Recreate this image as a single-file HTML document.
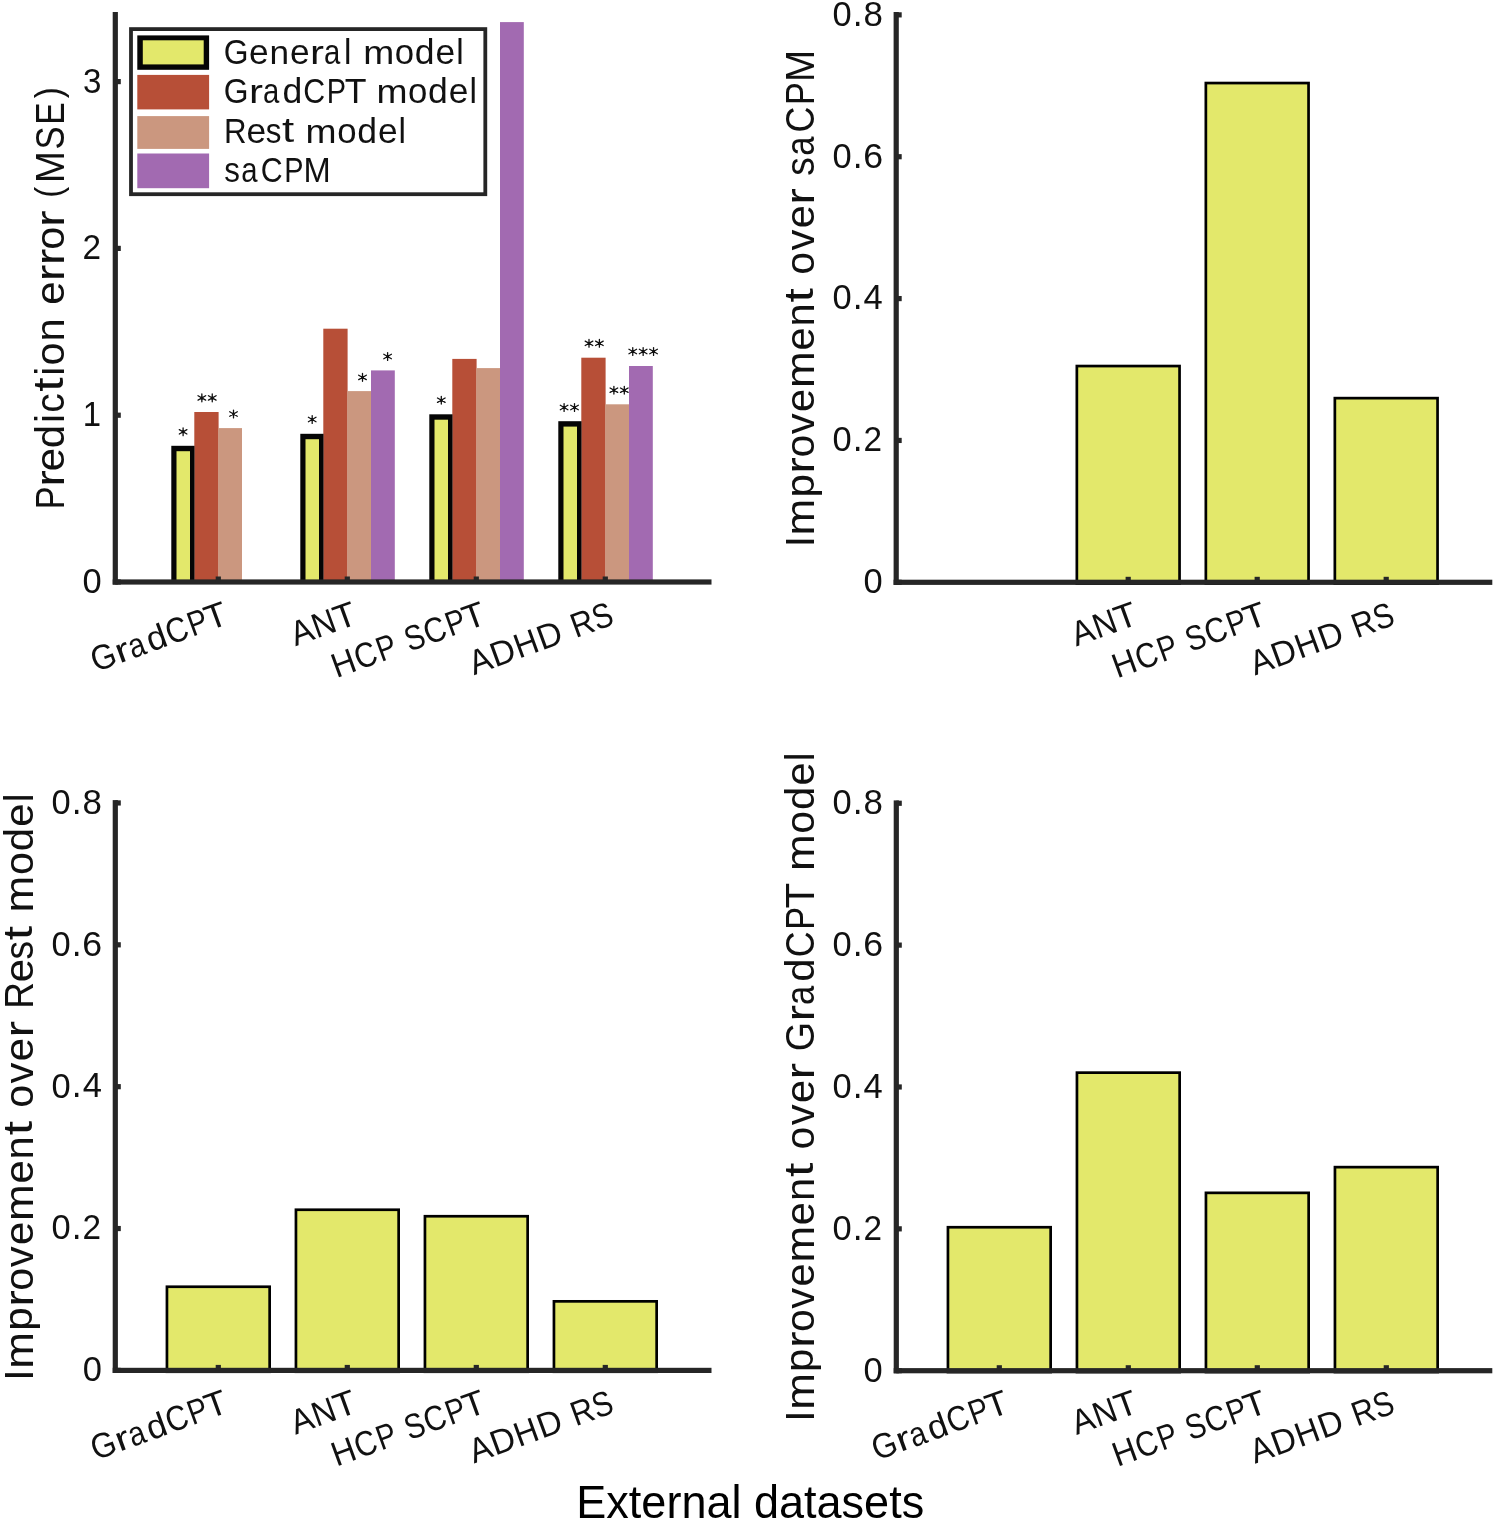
<!DOCTYPE html>
<html><head><meta charset="utf-8"><style>
html,body{margin:0;padding:0;background:#fff;overflow:hidden;}
svg{display:block;}
text{-webkit-font-smoothing:antialiased;}
text{font-family:"Liberation Sans", sans-serif;}
</style></head><body>
<svg style="will-change:transform" width="1494" height="1521" viewBox="0 0 1494 1521">
<rect width="1494" height="1521" fill="#fff"/>
<rect x="194.30" y="412.00" width="24.3" height="170.00" fill="#B74F37"/>
<rect x="218.30" y="428.10" width="23.7" height="153.90" fill="#CB977F"/>
<rect x="171.30" y="445.80" width="23.2" height="136.20" fill="#050505"/>
<rect x="176.50" y="451.20" width="13.5" height="130.80" fill="#E3E86B"/>
<rect x="323.30" y="328.70" width="24.3" height="253.30" fill="#B74F37"/>
<rect x="347.30" y="391.10" width="23.7" height="190.90" fill="#CB977F"/>
<rect x="371.00" y="370.40" width="23.8" height="211.60" fill="#A26AB1"/>
<rect x="300.30" y="433.80" width="23.2" height="148.20" fill="#050505"/>
<rect x="305.50" y="439.20" width="13.5" height="142.80" fill="#E3E86B"/>
<rect x="452.30" y="358.90" width="24.3" height="223.10" fill="#B74F37"/>
<rect x="476.30" y="368.10" width="23.7" height="213.90" fill="#CB977F"/>
<rect x="500.00" y="22.10" width="23.8" height="559.90" fill="#A26AB1"/>
<rect x="429.30" y="414.30" width="23.2" height="167.70" fill="#050505"/>
<rect x="434.50" y="419.70" width="13.5" height="162.30" fill="#E3E86B"/>
<rect x="581.30" y="357.70" width="24.3" height="224.30" fill="#B74F37"/>
<rect x="605.30" y="404.30" width="23.7" height="177.70" fill="#CB977F"/>
<rect x="629.00" y="366.00" width="23.8" height="216.00" fill="#A26AB1"/>
<rect x="558.30" y="421.20" width="23.2" height="160.80" fill="#050505"/>
<rect x="563.50" y="426.60" width="13.5" height="155.40" fill="#E3E86B"/>
<rect x="112.70" y="12.00" width="5.2" height="572.60" fill="#262626"/>
<rect x="112.70" y="579.40" width="598.80" height="5.2" fill="#262626"/>
<rect x="115.30" y="579.40" width="5.50" height="5.2" fill="#262626"/>
<rect x="115.30" y="412.60" width="5.50" height="5.2" fill="#262626"/>
<rect x="115.30" y="245.80" width="5.50" height="5.2" fill="#262626"/>
<rect x="115.30" y="79.00" width="5.50" height="5.2" fill="#262626"/>
<rect x="215.70" y="576.50" width="5.2" height="5.50" fill="#262626"/>
<rect x="344.70" y="576.50" width="5.2" height="5.50" fill="#262626"/>
<rect x="473.70" y="576.50" width="5.2" height="5.50" fill="#262626"/>
<rect x="602.70" y="576.50" width="5.2" height="5.50" fill="#262626"/>
<path d="M183.10,427.90L183.10,435.70M179.29,434.00L186.91,429.60M179.29,429.60L186.91,434.00" stroke="#111" stroke-width="1.3" stroke-linecap="round" fill="none"/><circle cx="183.10" cy="431.80" r="1.5" fill="#111"/>
<path d="M201.85,394.00L201.85,401.80M198.04,400.10L205.66,395.70M198.04,395.70L205.66,400.10" stroke="#111" stroke-width="1.3" stroke-linecap="round" fill="none"/><circle cx="201.85" cy="397.90" r="1.5" fill="#111"/><path d="M212.25,394.00L212.25,401.80M208.44,400.10L216.06,395.70M208.44,395.70L216.06,400.10" stroke="#111" stroke-width="1.3" stroke-linecap="round" fill="none"/><circle cx="212.25" cy="397.90" r="1.5" fill="#111"/>
<path d="M233.50,410.10L233.50,417.90M229.69,416.20L237.31,411.80M229.69,411.80L237.31,416.20" stroke="#111" stroke-width="1.3" stroke-linecap="round" fill="none"/><circle cx="233.50" cy="414.00" r="1.5" fill="#111"/>
<path d="M312.20,415.60L312.20,423.40M308.39,421.70L316.01,417.30M308.39,417.30L316.01,421.70" stroke="#111" stroke-width="1.3" stroke-linecap="round" fill="none"/><circle cx="312.20" cy="419.50" r="1.5" fill="#111"/>
<path d="M362.50,373.50L362.50,381.30M358.69,379.60L366.31,375.20M358.69,375.20L366.31,379.60" stroke="#111" stroke-width="1.3" stroke-linecap="round" fill="none"/><circle cx="362.50" cy="377.40" r="1.5" fill="#111"/>
<path d="M387.60,352.60L387.60,360.40M383.79,358.70L391.41,354.30M383.79,354.30L391.41,358.70" stroke="#111" stroke-width="1.3" stroke-linecap="round" fill="none"/><circle cx="387.60" cy="356.50" r="1.5" fill="#111"/>
<path d="M441.30,396.30L441.30,404.10M437.49,402.40L445.11,398.00M437.49,398.00L445.11,402.40" stroke="#111" stroke-width="1.3" stroke-linecap="round" fill="none"/><circle cx="441.30" cy="400.20" r="1.5" fill="#111"/>
<path d="M564.10,403.60L564.10,411.40M560.29,409.70L567.91,405.30M560.29,405.30L567.91,409.70" stroke="#111" stroke-width="1.3" stroke-linecap="round" fill="none"/><circle cx="564.10" cy="407.50" r="1.5" fill="#111"/><path d="M574.50,403.60L574.50,411.40M570.69,409.70L578.31,405.30M570.69,405.30L578.31,409.70" stroke="#111" stroke-width="1.3" stroke-linecap="round" fill="none"/><circle cx="574.50" cy="407.50" r="1.5" fill="#111"/>
<path d="M589.00,339.40L589.00,347.20M585.19,345.50L592.81,341.10M585.19,341.10L592.81,345.50" stroke="#111" stroke-width="1.3" stroke-linecap="round" fill="none"/><circle cx="589.00" cy="343.30" r="1.5" fill="#111"/><path d="M599.40,339.40L599.40,347.20M595.59,345.50L603.21,341.10M595.59,341.10L603.21,345.50" stroke="#111" stroke-width="1.3" stroke-linecap="round" fill="none"/><circle cx="599.40" cy="343.30" r="1.5" fill="#111"/>
<path d="M613.90,386.30L613.90,394.10M610.09,392.40L617.71,388.00M610.09,388.00L617.71,392.40" stroke="#111" stroke-width="1.3" stroke-linecap="round" fill="none"/><circle cx="613.90" cy="390.20" r="1.5" fill="#111"/><path d="M624.30,386.30L624.30,394.10M620.49,392.40L628.11,388.00M620.49,388.00L628.11,392.40" stroke="#111" stroke-width="1.3" stroke-linecap="round" fill="none"/><circle cx="624.30" cy="390.20" r="1.5" fill="#111"/>
<path d="M632.75,347.60L632.75,355.40M628.94,353.70L636.56,349.30M628.94,349.30L636.56,353.70" stroke="#111" stroke-width="1.3" stroke-linecap="round" fill="none"/><circle cx="632.75" cy="351.50" r="1.5" fill="#111"/><path d="M643.15,347.60L643.15,355.40M639.34,353.70L646.96,349.30M639.34,349.30L646.96,353.70" stroke="#111" stroke-width="1.3" stroke-linecap="round" fill="none"/><circle cx="643.15" cy="351.50" r="1.5" fill="#111"/><path d="M653.55,347.60L653.55,355.40M649.74,353.70L657.36,349.30M649.74,349.30L657.36,353.70" stroke="#111" stroke-width="1.3" stroke-linecap="round" fill="none"/><circle cx="653.55" cy="351.50" r="1.5" fill="#111"/>
<rect x="131" y="29.1" width="354.3" height="165.1" fill="#fff" stroke="#262626" stroke-width="3.8"/>
<rect x="137.3" y="35.4" width="71.8" height="34.4" fill="#050505"/>
<rect x="142.8" y="40.3" width="60.9" height="24.1" fill="#E3E86B"/>
<rect x="137.3" y="74.9" width="71.8" height="34.5" fill="#B74F37"/>
<rect x="137.3" y="116.1" width="71.8" height="32.8" fill="#CB977F"/>
<rect x="137.3" y="153.5" width="71.8" height="34.7" fill="#A26AB1"/>
<g fill="#111111"><text transform="translate(223.64,64.01) scale(0.974,1.068)" font-size="32.70">G</text><text transform="translate(249.05,64.02) scale(1.081,1.047)" font-size="32.70">e</text><text transform="translate(269.48,63.90) scale(1.077,1.041)" font-size="32.70">n</text><text transform="translate(289.90,64.02) scale(1.081,1.047)" font-size="32.70">e</text><text transform="translate(309.88,63.90) scale(1.283,1.041)" font-size="32.70">r</text><text transform="translate(323.88,64.02) scale(0.897,1.047)" font-size="32.70">a</text><text transform="translate(344.02,63.90) scale(1.022,1.048)" font-size="32.70">l</text><text transform="translate(363.15,63.90) scale(1.140,1.041)" font-size="32.70">m</text><text transform="translate(394.86,64.02) scale(1.063,1.047)" font-size="32.70">o</text><text transform="translate(414.83,64.01) scale(1.087,1.053)" font-size="32.70">d</text><text transform="translate(435.59,64.02) scale(1.081,1.047)" font-size="32.70">e</text><text transform="translate(456.23,63.90) scale(1.022,1.048)" font-size="32.70">l</text></g>
<g fill="#111111"><text transform="translate(223.64,103.21) scale(0.974,1.068)" font-size="32.70">G</text><text transform="translate(248.91,103.10) scale(1.283,1.041)" font-size="32.70">r</text><text transform="translate(262.91,103.22) scale(0.897,1.047)" font-size="32.70">a</text><text transform="translate(282.53,103.21) scale(1.087,1.053)" font-size="32.70">d</text><text transform="translate(303.29,103.21) scale(0.928,1.068)" font-size="32.70">C</text><text transform="translate(326.65,103.10) scale(0.884,1.060)" font-size="32.70">P</text><text transform="translate(344.65,103.10) scale(1.090,1.060)" font-size="32.70">T</text><text transform="translate(376.38,103.10) scale(1.140,1.041)" font-size="32.70">m</text><text transform="translate(408.09,103.22) scale(1.063,1.047)" font-size="32.70">o</text><text transform="translate(428.07,103.21) scale(1.087,1.053)" font-size="32.70">d</text><text transform="translate(448.83,103.22) scale(1.081,1.047)" font-size="32.70">e</text><text transform="translate(469.47,103.10) scale(1.022,1.048)" font-size="32.70">l</text></g>
<g fill="#111111"><text transform="translate(224.04,142.60) scale(0.956,1.060)" font-size="32.70">R</text><text transform="translate(246.43,142.72) scale(1.081,1.047)" font-size="32.70">e</text><text transform="translate(265.69,142.71) scale(0.959,1.049)" font-size="32.70">s</text><text transform="translate(282.00,142.32) scale(1.340,1.073)" font-size="32.70">t</text><text transform="translate(305.51,142.60) scale(1.140,1.041)" font-size="32.70">m</text><text transform="translate(337.21,142.72) scale(1.063,1.047)" font-size="32.70">o</text><text transform="translate(357.19,142.71) scale(1.087,1.053)" font-size="32.70">d</text><text transform="translate(377.95,142.72) scale(1.081,1.047)" font-size="32.70">e</text><text transform="translate(398.59,142.60) scale(1.022,1.048)" font-size="32.70">l</text></g>
<g fill="#111111"><text transform="translate(224.32,181.91) scale(0.959,1.049)" font-size="32.70">s</text><text transform="translate(241.17,181.92) scale(0.897,1.047)" font-size="32.70">a</text><text transform="translate(260.79,181.91) scale(0.928,1.068)" font-size="32.70">C</text><text transform="translate(284.14,181.80) scale(0.884,1.060)" font-size="32.70">P</text><text transform="translate(303.55,181.80) scale(0.999,1.060)" font-size="32.70">M</text></g>
<g fill="#111111"><text transform="translate(82.48,593.01) scale(1.054,1.068)" font-size="32.70">0</text></g>
<g fill="#111111"><text transform="translate(82.76,426.10) scale(1.007,1.060)" font-size="32.70">1</text></g>
<g fill="#111111"><text transform="translate(82.42,259.30) scale(1.018,1.063)" font-size="32.70">2</text></g>
<g fill="#111111"><text transform="translate(82.92,92.61) scale(1.013,1.068)" font-size="32.70">3</text></g>
<g transform="translate(63.80,506.50) rotate(-90)"><g fill="#111111"><text transform="translate(-2.81,0.00) scale(0.884,1.060)" font-size="38.80">P</text><text transform="translate(19.80,0.00) scale(1.283,1.041)" font-size="38.80">r</text><text transform="translate(35.23,0.14) scale(1.081,1.047)" font-size="38.80">e</text><text transform="translate(58.24,0.13) scale(1.087,1.053)" font-size="38.80">d</text><text transform="translate(83.53,0.00) scale(1.022,1.048)" font-size="38.80">i</text><text transform="translate(93.78,0.14) scale(1.002,1.047)" font-size="38.80">c</text><text transform="translate(114.84,-0.33) scale(1.340,1.073)" font-size="38.80">t</text><text transform="translate(130.86,0.00) scale(1.022,1.048)" font-size="38.80">i</text><text transform="translate(141.01,0.14) scale(1.063,1.047)" font-size="38.80">o</text><text transform="translate(165.07,0.00) scale(1.077,1.041)" font-size="38.80">n</text><text transform="translate(201.64,0.14) scale(1.081,1.047)" font-size="38.80">e</text><text transform="translate(225.34,0.00) scale(1.283,1.041)" font-size="38.80">r</text><text transform="translate(241.29,0.00) scale(1.283,1.041)" font-size="38.80">r</text><text transform="translate(256.75,0.14) scale(1.063,1.047)" font-size="38.80">o</text><text transform="translate(279.44,0.00) scale(1.283,1.041)" font-size="38.80">r</text><text transform="translate(308.78,-2.56) scale(0.846,0.956)" font-size="38.80">(</text><text transform="translate(323.28,0.00) scale(0.999,1.060)" font-size="38.80">M</text><text transform="translate(357.09,0.13) scale(0.893,1.068)" font-size="38.80">S</text><text transform="translate(381.80,0.00) scale(0.866,1.060)" font-size="38.80">E</text><text transform="translate(408.21,-2.56) scale(0.846,0.956)" font-size="38.80">)</text></g></g>
<g transform="translate(229.00,623.50) rotate(-20)"><g fill="#111111"><text transform="translate(-141.87,0.11) scale(0.974,1.068)" font-size="32.70">G</text><text transform="translate(-116.59,0.00) scale(1.283,1.041)" font-size="32.70">r</text><text transform="translate(-102.59,0.12) scale(0.897,1.047)" font-size="32.70">a</text><text transform="translate(-82.98,0.11) scale(1.087,1.053)" font-size="32.70">d</text><text transform="translate(-62.21,0.11) scale(0.928,1.068)" font-size="32.70">C</text><text transform="translate(-38.86,0.00) scale(0.884,1.060)" font-size="32.70">P</text><text transform="translate(-20.86,0.00) scale(1.090,1.060)" font-size="32.70">T</text></g></g>
<g transform="translate(358.00,623.50) rotate(-20)"><g fill="#111111"><text transform="translate(-66.64,0.00) scale(1.009,1.060)" font-size="32.70">A</text><text transform="translate(-43.88,0.00) scale(0.987,1.060)" font-size="32.70">N</text><text transform="translate(-20.86,0.00) scale(1.090,1.060)" font-size="32.70">T</text></g></g>
<g transform="translate(487.00,623.50) rotate(-20)"><g fill="#111111"><text transform="translate(-160.28,0.00) scale(0.995,1.060)" font-size="32.70">H</text><text transform="translate(-135.92,0.11) scale(0.928,1.068)" font-size="32.70">C</text><text transform="translate(-112.56,0.00) scale(0.884,1.060)" font-size="32.70">P</text><text transform="translate(-82.47,0.11) scale(0.893,1.068)" font-size="32.70">S</text><text transform="translate(-62.21,0.11) scale(0.928,1.068)" font-size="32.70">C</text><text transform="translate(-38.86,0.00) scale(0.884,1.060)" font-size="32.70">P</text><text transform="translate(-20.86,0.00) scale(1.090,1.060)" font-size="32.70">T</text></g></g>
<g transform="translate(616.00,623.50) rotate(-20)"><g fill="#111111"><text transform="translate(-151.03,0.00) scale(1.009,1.060)" font-size="32.70">A</text><text transform="translate(-128.39,0.00) scale(1.034,1.060)" font-size="32.70">D</text><text transform="translate(-103.10,0.00) scale(0.995,1.060)" font-size="32.70">H</text><text transform="translate(-78.62,0.00) scale(1.034,1.060)" font-size="32.70">D</text><text transform="translate(-42.84,0.00) scale(0.956,1.060)" font-size="32.70">R</text><text transform="translate(-19.94,0.11) scale(0.893,1.068)" font-size="32.70">S</text></g></g>
<rect x="1076.85" y="366.05" width="102.70" height="217.60" fill="#E3E86B" stroke="#000" stroke-width="2.7"/>
<rect x="1205.85" y="83.05" width="102.70" height="500.60" fill="#E3E86B" stroke="#000" stroke-width="2.7"/>
<rect x="1334.85" y="398.15" width="102.70" height="185.50" fill="#E3E86B" stroke="#000" stroke-width="2.7"/>
<rect x="893.60" y="12.00" width="5.2" height="572.90" fill="#262626"/>
<rect x="893.60" y="579.70" width="598.70" height="5.2" fill="#262626"/>
<rect x="896.20" y="579.70" width="5.50" height="5.2" fill="#262626"/>
<rect x="896.20" y="437.84" width="5.50" height="5.2" fill="#262626"/>
<rect x="896.20" y="295.98" width="5.50" height="5.2" fill="#262626"/>
<rect x="896.20" y="154.12" width="5.50" height="5.2" fill="#262626"/>
<rect x="896.20" y="12.26" width="5.50" height="5.2" fill="#262626"/>
<rect x="1125.60" y="576.80" width="5.2" height="5.50" fill="#262626"/>
<rect x="1254.60" y="576.80" width="5.2" height="5.50" fill="#262626"/>
<rect x="1383.60" y="576.80" width="5.2" height="5.50" fill="#262626"/>
<g fill="#111111"><text transform="translate(863.58,593.21) scale(1.054,1.068)" font-size="32.70">0</text></g>
<g fill="#111111"><text transform="translate(832.38,451.35) scale(1.054,1.068)" font-size="32.70">0</text><text transform="translate(852.64,451.24) scale(1.083,1.159)" font-size="32.70">.</text><text transform="translate(863.52,451.24) scale(1.018,1.063)" font-size="32.70">2</text></g>
<g fill="#111111"><text transform="translate(832.38,309.49) scale(1.054,1.068)" font-size="32.70">0</text><text transform="translate(852.64,309.38) scale(1.083,1.159)" font-size="32.70">.</text><text transform="translate(863.61,309.38) scale(1.055,1.060)" font-size="32.70">4</text></g>
<g fill="#111111"><text transform="translate(832.38,167.63) scale(1.054,1.068)" font-size="32.70">0</text><text transform="translate(852.64,167.52) scale(1.083,1.159)" font-size="32.70">.</text><text transform="translate(863.27,167.63) scale(1.091,1.068)" font-size="32.70">6</text></g>
<g fill="#111111"><text transform="translate(832.38,25.77) scale(1.054,1.068)" font-size="32.70">0</text><text transform="translate(852.64,25.66) scale(1.083,1.159)" font-size="32.70">.</text><text transform="translate(863.49,25.77) scale(1.066,1.068)" font-size="32.70">8</text></g>
<g transform="translate(813.80,543.60) rotate(-90)"><g fill="#111111"><text transform="translate(-3.74,0.00) scale(1.053,1.060)" font-size="38.63">I</text><text transform="translate(8.18,0.00) scale(1.140,1.041)" font-size="38.63">m</text><text transform="translate(46.03,-0.24) scale(1.089,1.029)" font-size="38.63">p</text><text transform="translate(69.97,0.00) scale(1.283,1.041)" font-size="38.63">r</text><text transform="translate(86.05,0.14) scale(1.063,1.047)" font-size="38.63">o</text><text transform="translate(109.43,0.00) scale(1.079,1.036)" font-size="38.63">v</text><text transform="translate(131.67,0.14) scale(1.081,1.047)" font-size="38.63">e</text><text transform="translate(155.64,0.00) scale(1.140,1.041)" font-size="38.63">m</text><text transform="translate(193.08,0.14) scale(1.081,1.047)" font-size="38.63">e</text><text transform="translate(217.21,0.00) scale(1.077,1.041)" font-size="38.63">n</text><text transform="translate(241.19,-0.33) scale(1.340,1.073)" font-size="38.63">t</text><text transform="translate(268.79,0.14) scale(1.063,1.047)" font-size="38.63">o</text><text transform="translate(293.02,0.00) scale(1.079,1.036)" font-size="38.63">v</text><text transform="translate(315.26,0.14) scale(1.081,1.047)" font-size="38.63">e</text><text transform="translate(338.87,0.00) scale(1.283,1.041)" font-size="38.63">r</text><text transform="translate(367.91,0.14) scale(0.959,1.049)" font-size="38.63">s</text><text transform="translate(387.82,0.14) scale(0.897,1.047)" font-size="38.63">a</text><text transform="translate(411.00,0.13) scale(0.928,1.068)" font-size="38.63">C</text><text transform="translate(438.59,0.00) scale(0.884,1.060)" font-size="38.63">P</text><text transform="translate(461.53,0.00) scale(0.999,1.060)" font-size="38.63">M</text></g></g>
<g transform="translate(1138.90,623.80) rotate(-20)"><g fill="#111111"><text transform="translate(-66.64,0.00) scale(1.009,1.060)" font-size="32.70">A</text><text transform="translate(-43.88,0.00) scale(0.987,1.060)" font-size="32.70">N</text><text transform="translate(-20.86,0.00) scale(1.090,1.060)" font-size="32.70">T</text></g></g>
<g transform="translate(1267.90,623.80) rotate(-20)"><g fill="#111111"><text transform="translate(-160.28,0.00) scale(0.995,1.060)" font-size="32.70">H</text><text transform="translate(-135.92,0.11) scale(0.928,1.068)" font-size="32.70">C</text><text transform="translate(-112.56,0.00) scale(0.884,1.060)" font-size="32.70">P</text><text transform="translate(-82.47,0.11) scale(0.893,1.068)" font-size="32.70">S</text><text transform="translate(-62.21,0.11) scale(0.928,1.068)" font-size="32.70">C</text><text transform="translate(-38.86,0.00) scale(0.884,1.060)" font-size="32.70">P</text><text transform="translate(-20.86,0.00) scale(1.090,1.060)" font-size="32.70">T</text></g></g>
<g transform="translate(1396.90,623.80) rotate(-20)"><g fill="#111111"><text transform="translate(-151.03,0.00) scale(1.009,1.060)" font-size="32.70">A</text><text transform="translate(-128.39,0.00) scale(1.034,1.060)" font-size="32.70">D</text><text transform="translate(-103.10,0.00) scale(0.995,1.060)" font-size="32.70">H</text><text transform="translate(-78.62,0.00) scale(1.034,1.060)" font-size="32.70">D</text><text transform="translate(-42.84,0.00) scale(0.956,1.060)" font-size="32.70">R</text><text transform="translate(-19.94,0.11) scale(0.893,1.068)" font-size="32.70">S</text></g></g>
<rect x="166.95" y="1286.75" width="102.70" height="85.00" fill="#E3E86B" stroke="#000" stroke-width="2.7"/>
<rect x="295.95" y="1209.75" width="102.70" height="162.00" fill="#E3E86B" stroke="#000" stroke-width="2.7"/>
<rect x="424.95" y="1216.25" width="102.70" height="155.50" fill="#E3E86B" stroke="#000" stroke-width="2.7"/>
<rect x="553.95" y="1301.35" width="102.70" height="70.40" fill="#E3E86B" stroke="#000" stroke-width="2.7"/>
<rect x="112.70" y="800.10" width="5.2" height="572.90" fill="#262626"/>
<rect x="112.70" y="1367.80" width="598.80" height="5.2" fill="#262626"/>
<rect x="115.30" y="1367.80" width="5.50" height="5.2" fill="#262626"/>
<rect x="115.30" y="1225.94" width="5.50" height="5.2" fill="#262626"/>
<rect x="115.30" y="1084.08" width="5.50" height="5.2" fill="#262626"/>
<rect x="115.30" y="942.22" width="5.50" height="5.2" fill="#262626"/>
<rect x="115.30" y="800.36" width="5.50" height="5.2" fill="#262626"/>
<rect x="215.70" y="1364.90" width="5.2" height="5.50" fill="#262626"/>
<rect x="344.70" y="1364.90" width="5.2" height="5.50" fill="#262626"/>
<rect x="473.70" y="1364.90" width="5.2" height="5.50" fill="#262626"/>
<rect x="602.70" y="1364.90" width="5.2" height="5.50" fill="#262626"/>
<g fill="#111111"><text transform="translate(82.68,1381.31) scale(1.054,1.068)" font-size="32.70">0</text></g>
<g fill="#111111"><text transform="translate(51.48,1239.45) scale(1.054,1.068)" font-size="32.70">0</text><text transform="translate(71.74,1239.34) scale(1.083,1.159)" font-size="32.70">.</text><text transform="translate(82.62,1239.34) scale(1.018,1.063)" font-size="32.70">2</text></g>
<g fill="#111111"><text transform="translate(51.48,1097.59) scale(1.054,1.068)" font-size="32.70">0</text><text transform="translate(71.74,1097.48) scale(1.083,1.159)" font-size="32.70">.</text><text transform="translate(82.71,1097.48) scale(1.055,1.060)" font-size="32.70">4</text></g>
<g fill="#111111"><text transform="translate(51.48,955.73) scale(1.054,1.068)" font-size="32.70">0</text><text transform="translate(71.74,955.62) scale(1.083,1.159)" font-size="32.70">.</text><text transform="translate(82.37,955.73) scale(1.091,1.068)" font-size="32.70">6</text></g>
<g fill="#111111"><text transform="translate(51.48,813.87) scale(1.054,1.068)" font-size="32.70">0</text><text transform="translate(71.74,813.76) scale(1.083,1.159)" font-size="32.70">.</text><text transform="translate(82.59,813.87) scale(1.066,1.068)" font-size="32.70">8</text></g>
<g transform="translate(32.60,1376.90) rotate(-90)"><g fill="#111111"><text transform="translate(-3.75,0.00) scale(1.053,1.060)" font-size="38.69">I</text><text transform="translate(8.19,0.00) scale(1.140,1.041)" font-size="38.69">m</text><text transform="translate(46.09,-0.24) scale(1.089,1.029)" font-size="38.69">p</text><text transform="translate(70.07,0.00) scale(1.283,1.041)" font-size="38.69">r</text><text transform="translate(86.17,0.14) scale(1.063,1.047)" font-size="38.69">o</text><text transform="translate(109.59,0.00) scale(1.079,1.036)" font-size="38.69">v</text><text transform="translate(131.86,0.14) scale(1.081,1.047)" font-size="38.69">e</text><text transform="translate(155.86,0.00) scale(1.140,1.041)" font-size="38.69">m</text><text transform="translate(193.35,0.14) scale(1.081,1.047)" font-size="38.69">e</text><text transform="translate(217.51,0.00) scale(1.077,1.041)" font-size="38.69">n</text><text transform="translate(241.53,-0.33) scale(1.340,1.073)" font-size="38.69">t</text><text transform="translate(269.17,0.14) scale(1.063,1.047)" font-size="38.69">o</text><text transform="translate(293.44,0.00) scale(1.079,1.036)" font-size="38.69">v</text><text transform="translate(315.71,0.14) scale(1.081,1.047)" font-size="38.69">e</text><text transform="translate(339.35,0.00) scale(1.283,1.041)" font-size="38.69">r</text><text transform="translate(368.11,0.00) scale(0.956,1.060)" font-size="38.69">R</text><text transform="translate(394.60,0.14) scale(1.081,1.047)" font-size="38.69">e</text><text transform="translate(417.38,0.14) scale(0.959,1.049)" font-size="38.69">s</text><text transform="translate(436.68,-0.33) scale(1.340,1.073)" font-size="38.69">t</text><text transform="translate(464.49,0.00) scale(1.140,1.041)" font-size="38.69">m</text><text transform="translate(502.01,0.14) scale(1.063,1.047)" font-size="38.69">o</text><text transform="translate(525.64,0.13) scale(1.087,1.053)" font-size="38.69">d</text><text transform="translate(550.21,0.14) scale(1.081,1.047)" font-size="38.69">e</text><text transform="translate(574.63,0.00) scale(1.022,1.048)" font-size="38.69">l</text></g></g>
<g transform="translate(229.00,1411.90) rotate(-20)"><g fill="#111111"><text transform="translate(-141.87,0.11) scale(0.974,1.068)" font-size="32.70">G</text><text transform="translate(-116.59,0.00) scale(1.283,1.041)" font-size="32.70">r</text><text transform="translate(-102.59,0.12) scale(0.897,1.047)" font-size="32.70">a</text><text transform="translate(-82.98,0.11) scale(1.087,1.053)" font-size="32.70">d</text><text transform="translate(-62.21,0.11) scale(0.928,1.068)" font-size="32.70">C</text><text transform="translate(-38.86,0.00) scale(0.884,1.060)" font-size="32.70">P</text><text transform="translate(-20.86,0.00) scale(1.090,1.060)" font-size="32.70">T</text></g></g>
<g transform="translate(358.00,1411.90) rotate(-20)"><g fill="#111111"><text transform="translate(-66.64,0.00) scale(1.009,1.060)" font-size="32.70">A</text><text transform="translate(-43.88,0.00) scale(0.987,1.060)" font-size="32.70">N</text><text transform="translate(-20.86,0.00) scale(1.090,1.060)" font-size="32.70">T</text></g></g>
<g transform="translate(487.00,1411.90) rotate(-20)"><g fill="#111111"><text transform="translate(-160.28,0.00) scale(0.995,1.060)" font-size="32.70">H</text><text transform="translate(-135.92,0.11) scale(0.928,1.068)" font-size="32.70">C</text><text transform="translate(-112.56,0.00) scale(0.884,1.060)" font-size="32.70">P</text><text transform="translate(-82.47,0.11) scale(0.893,1.068)" font-size="32.70">S</text><text transform="translate(-62.21,0.11) scale(0.928,1.068)" font-size="32.70">C</text><text transform="translate(-38.86,0.00) scale(0.884,1.060)" font-size="32.70">P</text><text transform="translate(-20.86,0.00) scale(1.090,1.060)" font-size="32.70">T</text></g></g>
<g transform="translate(616.00,1411.90) rotate(-20)"><g fill="#111111"><text transform="translate(-151.03,0.00) scale(1.009,1.060)" font-size="32.70">A</text><text transform="translate(-128.39,0.00) scale(1.034,1.060)" font-size="32.70">D</text><text transform="translate(-103.10,0.00) scale(0.995,1.060)" font-size="32.70">H</text><text transform="translate(-78.62,0.00) scale(1.034,1.060)" font-size="32.70">D</text><text transform="translate(-42.84,0.00) scale(0.956,1.060)" font-size="32.70">R</text><text transform="translate(-19.94,0.11) scale(0.893,1.068)" font-size="32.70">S</text></g></g>
<rect x="947.95" y="1227.25" width="102.70" height="144.80" fill="#E3E86B" stroke="#000" stroke-width="2.7"/>
<rect x="1076.95" y="1072.65" width="102.70" height="299.40" fill="#E3E86B" stroke="#000" stroke-width="2.7"/>
<rect x="1205.95" y="1192.85" width="102.70" height="179.20" fill="#E3E86B" stroke="#000" stroke-width="2.7"/>
<rect x="1334.95" y="1167.15" width="102.70" height="204.90" fill="#E3E86B" stroke="#000" stroke-width="2.7"/>
<rect x="893.70" y="800.40" width="5.2" height="572.90" fill="#262626"/>
<rect x="893.70" y="1368.10" width="598.60" height="5.2" fill="#262626"/>
<rect x="896.30" y="1368.10" width="5.50" height="5.2" fill="#262626"/>
<rect x="896.30" y="1226.24" width="5.50" height="5.2" fill="#262626"/>
<rect x="896.30" y="1084.38" width="5.50" height="5.2" fill="#262626"/>
<rect x="896.30" y="942.52" width="5.50" height="5.2" fill="#262626"/>
<rect x="896.30" y="800.66" width="5.50" height="5.2" fill="#262626"/>
<rect x="996.70" y="1365.20" width="5.2" height="5.50" fill="#262626"/>
<rect x="1125.70" y="1365.20" width="5.2" height="5.50" fill="#262626"/>
<rect x="1254.70" y="1365.20" width="5.2" height="5.50" fill="#262626"/>
<rect x="1383.70" y="1365.20" width="5.2" height="5.50" fill="#262626"/>
<g fill="#111111"><text transform="translate(863.58,1381.61) scale(1.054,1.068)" font-size="32.70">0</text></g>
<g fill="#111111"><text transform="translate(832.38,1239.75) scale(1.054,1.068)" font-size="32.70">0</text><text transform="translate(852.64,1239.64) scale(1.083,1.159)" font-size="32.70">.</text><text transform="translate(863.52,1239.64) scale(1.018,1.063)" font-size="32.70">2</text></g>
<g fill="#111111"><text transform="translate(832.38,1097.89) scale(1.054,1.068)" font-size="32.70">0</text><text transform="translate(852.64,1097.78) scale(1.083,1.159)" font-size="32.70">.</text><text transform="translate(863.61,1097.78) scale(1.055,1.060)" font-size="32.70">4</text></g>
<g fill="#111111"><text transform="translate(832.38,956.03) scale(1.054,1.068)" font-size="32.70">0</text><text transform="translate(852.64,955.92) scale(1.083,1.159)" font-size="32.70">.</text><text transform="translate(863.27,956.03) scale(1.091,1.068)" font-size="32.70">6</text></g>
<g fill="#111111"><text transform="translate(832.38,814.17) scale(1.054,1.068)" font-size="32.70">0</text><text transform="translate(852.64,814.06) scale(1.083,1.159)" font-size="32.70">.</text><text transform="translate(863.49,814.17) scale(1.066,1.068)" font-size="32.70">8</text></g>
<g transform="translate(813.70,1418.00) rotate(-90)"><g fill="#111111"><text transform="translate(-3.74,0.00) scale(1.053,1.060)" font-size="38.59">I</text><text transform="translate(8.17,0.00) scale(1.140,1.041)" font-size="38.59">m</text><text transform="translate(45.97,-0.24) scale(1.089,1.029)" font-size="38.59">p</text><text transform="translate(69.89,0.00) scale(1.283,1.041)" font-size="38.59">r</text><text transform="translate(85.94,0.14) scale(1.063,1.047)" font-size="38.59">o</text><text transform="translate(109.30,0.00) scale(1.079,1.036)" font-size="38.59">v</text><text transform="translate(131.51,0.14) scale(1.081,1.047)" font-size="38.59">e</text><text transform="translate(155.45,0.00) scale(1.140,1.041)" font-size="38.59">m</text><text transform="translate(192.84,0.14) scale(1.081,1.047)" font-size="38.59">e</text><text transform="translate(216.94,0.00) scale(1.077,1.041)" font-size="38.59">n</text><text transform="translate(240.89,-0.33) scale(1.340,1.073)" font-size="38.59">t</text><text transform="translate(268.46,0.14) scale(1.063,1.047)" font-size="38.59">o</text><text transform="translate(292.66,0.00) scale(1.079,1.036)" font-size="38.59">v</text><text transform="translate(314.88,0.14) scale(1.081,1.047)" font-size="38.59">e</text><text transform="translate(338.45,0.00) scale(1.283,1.041)" font-size="38.59">r</text><text transform="translate(366.66,0.13) scale(0.974,1.068)" font-size="38.59">G</text><text transform="translate(396.48,0.00) scale(1.283,1.041)" font-size="38.59">r</text><text transform="translate(413.00,0.14) scale(0.897,1.047)" font-size="38.59">a</text><text transform="translate(436.15,0.13) scale(1.087,1.053)" font-size="38.59">d</text><text transform="translate(460.65,0.13) scale(0.928,1.068)" font-size="38.59">C</text><text transform="translate(488.21,0.00) scale(0.884,1.060)" font-size="38.59">P</text><text transform="translate(509.45,0.00) scale(1.090,1.060)" font-size="38.59">T</text><text transform="translate(546.90,0.00) scale(1.140,1.041)" font-size="38.59">m</text><text transform="translate(584.32,0.14) scale(1.063,1.047)" font-size="38.59">o</text><text transform="translate(607.89,0.13) scale(1.087,1.053)" font-size="38.59">d</text><text transform="translate(632.39,0.14) scale(1.081,1.047)" font-size="38.59">e</text><text transform="translate(656.75,0.00) scale(1.022,1.048)" font-size="38.59">l</text></g></g>
<g transform="translate(1010.00,1412.20) rotate(-20)"><g fill="#111111"><text transform="translate(-141.87,0.11) scale(0.974,1.068)" font-size="32.70">G</text><text transform="translate(-116.59,0.00) scale(1.283,1.041)" font-size="32.70">r</text><text transform="translate(-102.59,0.12) scale(0.897,1.047)" font-size="32.70">a</text><text transform="translate(-82.98,0.11) scale(1.087,1.053)" font-size="32.70">d</text><text transform="translate(-62.21,0.11) scale(0.928,1.068)" font-size="32.70">C</text><text transform="translate(-38.86,0.00) scale(0.884,1.060)" font-size="32.70">P</text><text transform="translate(-20.86,0.00) scale(1.090,1.060)" font-size="32.70">T</text></g></g>
<g transform="translate(1139.00,1412.20) rotate(-20)"><g fill="#111111"><text transform="translate(-66.64,0.00) scale(1.009,1.060)" font-size="32.70">A</text><text transform="translate(-43.88,0.00) scale(0.987,1.060)" font-size="32.70">N</text><text transform="translate(-20.86,0.00) scale(1.090,1.060)" font-size="32.70">T</text></g></g>
<g transform="translate(1268.00,1412.20) rotate(-20)"><g fill="#111111"><text transform="translate(-160.28,0.00) scale(0.995,1.060)" font-size="32.70">H</text><text transform="translate(-135.92,0.11) scale(0.928,1.068)" font-size="32.70">C</text><text transform="translate(-112.56,0.00) scale(0.884,1.060)" font-size="32.70">P</text><text transform="translate(-82.47,0.11) scale(0.893,1.068)" font-size="32.70">S</text><text transform="translate(-62.21,0.11) scale(0.928,1.068)" font-size="32.70">C</text><text transform="translate(-38.86,0.00) scale(0.884,1.060)" font-size="32.70">P</text><text transform="translate(-20.86,0.00) scale(1.090,1.060)" font-size="32.70">T</text></g></g>
<g transform="translate(1397.00,1412.20) rotate(-20)"><g fill="#111111"><text transform="translate(-151.03,0.00) scale(1.009,1.060)" font-size="32.70">A</text><text transform="translate(-128.39,0.00) scale(1.034,1.060)" font-size="32.70">D</text><text transform="translate(-103.10,0.00) scale(0.995,1.060)" font-size="32.70">H</text><text transform="translate(-78.62,0.00) scale(1.034,1.060)" font-size="32.70">D</text><text transform="translate(-42.84,0.00) scale(0.956,1.060)" font-size="32.70">R</text><text transform="translate(-19.94,0.11) scale(0.893,1.068)" font-size="32.70">S</text></g></g>
<text x="576.31" y="1518.20" font-size="46.2" textLength="347.89" lengthAdjust="spacingAndGlyphs" fill="#000">External datasets</text>
</svg></body></html>
